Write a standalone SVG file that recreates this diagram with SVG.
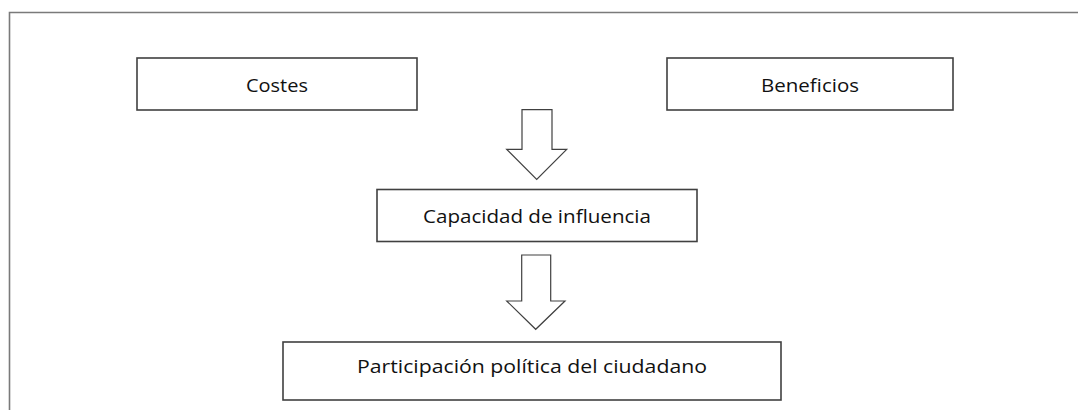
<svg xmlns="http://www.w3.org/2000/svg" width="1078" height="410" viewBox="0 0 1078 410">
<style>
.box{fill:#fff;stroke:#404040;stroke-width:1.6}
.arr{fill:#fff;stroke:#404040;stroke-width:1.2;stroke-linejoin:miter}
text{font-family:"Open Sans","Liberation Sans",sans-serif;font-size:18px;fill:#111;text-anchor:middle}
</style>
<rect width="1078" height="410" fill="#fff"/>
<path d="M9.5,420 V12.5 H1090" fill="none" stroke="#7a7a7a" stroke-width="1.6"/>
<g id="costes"><rect class="box" x="137" y="58" width="280" height="52"/><text x="277" y="91.5" textLength="62" lengthAdjust="spacingAndGlyphs">Costes</text></g>
<g id="beneficios"><rect class="box" x="667" y="58" width="286" height="52"/><text x="810" y="91.5" textLength="98" lengthAdjust="spacingAndGlyphs">Beneficios</text></g>
<g id="capacidad"><rect class="box" x="377" y="189.5" width="320" height="52"/><text x="537" y="223" textLength="228" lengthAdjust="spacingAndGlyphs">Capacidad de influencia</text></g>
<g id="participacion"><rect class="box" x="283" y="342" width="498" height="58"/><text x="532" y="373" textLength="350" lengthAdjust="spacingAndGlyphs">Participación política del ciudadano</text></g>
<g id="connectors">
<path class="arr" d="M522,109.7 H552 V149.3 H566.7 L536.7,179.3 L506.7,149.3 H522 Z"/>
<path class="arr" d="M521.7,255 H550.7 V301 H565 L535.7,329.3 L506.7,301 H521.7 Z"/>
</g>
</svg>
